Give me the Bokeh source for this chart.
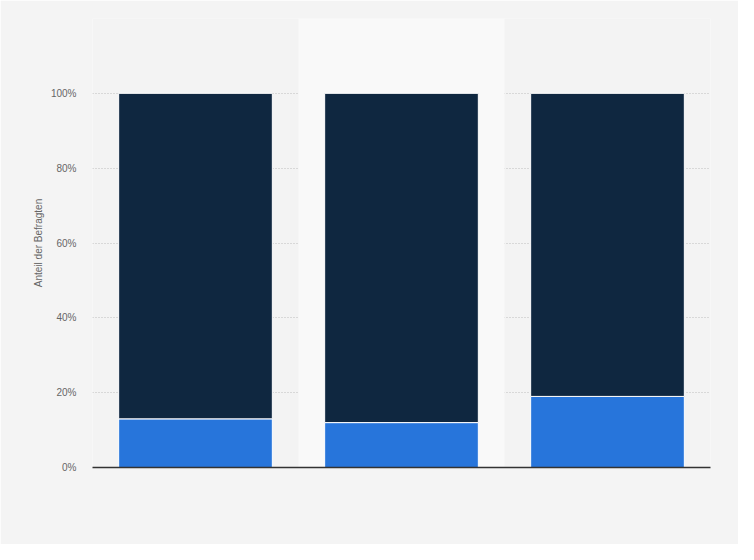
from bokeh.plotting import figure
from bokeh.models import FixedTicker, BoxAnnotation, FactorRange, Range1d
from bokeh.embed import file_html
from bokeh.resources import INLINE

categories = ["Gruppe 1", "Gruppe 2", "Gruppe 3"]
share_blue = [13, 12, 19]
share_navy = [87, 88, 81]
y_ticks = [0, 20, 40, 60, 80, 100]
grid_ticks = [0, 20, 40, 60, 80, 100, 120]

data = dict(cat=categories, blue=share_blue, navy=share_navy)

p = figure(width=738, height=544, x_range=FactorRange(*categories, range_padding=0),
           y_range=Range1d(0, 120), output_backend="svg", toolbar_location=None,
           min_border_left=92, min_border_right=28, min_border_top=18, min_border_bottom=77)

p.background_fill_color = "#f3f3f3"
p.border_fill_color = "#f4f4f4"
p.outline_line_color = None

band = BoxAnnotation(left=1, right=2, fill_color="#f9f9f9", fill_alpha=1, line_color=None, level="underlay")
p.add_layout(band)

p.vbar_stack(["blue", "navy"], x="cat", width=0.746, source=data,
             color=["#2775db", "#0f2740"], line_color="#ffffff", line_width=1)

p.xgrid.visible = False
p.ygrid.ticker = FixedTicker(ticks=grid_ticks)
p.ygrid.grid_line_color = "#bdbdbd"
p.ygrid.grid_line_dash = "1 2"
p.ygrid.grid_line_width = 1

p.yaxis.ticker = FixedTicker(ticks=y_ticks)
p.yaxis.major_label_overrides = {t: f"{t}%" for t in y_ticks}
p.yaxis.axis_line_color = None
p.yaxis.major_tick_line_color = None
p.yaxis.minor_tick_line_color = None
p.yaxis.major_tick_out = 0
p.yaxis.major_tick_in = 0
p.yaxis.minor_tick_out = 0
p.yaxis.major_label_standoff = 16
p.yaxis.major_label_text_font = "Liberation Sans"
p.yaxis.major_label_text_font_size = "10px"
p.yaxis.major_label_text_color = "#666666"
p.yaxis.axis_label = "Anteil der Befragten"
p.yaxis.axis_label_text_font = "Liberation Sans"
p.yaxis.axis_label_text_font_size = "10px"
p.yaxis.axis_label_text_font_style = "normal"
p.yaxis.axis_label_text_color = "#666666"
p.yaxis.axis_label_standoff = 4

p.xaxis.axis_line_color = "#333333"
p.xaxis.axis_line_width = 1.3
p.xaxis.major_tick_line_color = None
p.xaxis.minor_tick_line_color = None
p.xaxis.major_tick_out = 0
p.xaxis.major_label_text_alpha = 0
p.xaxis.major_label_text_font_size = "10px"

open("out.html", "w").write(file_html(p, INLINE))
